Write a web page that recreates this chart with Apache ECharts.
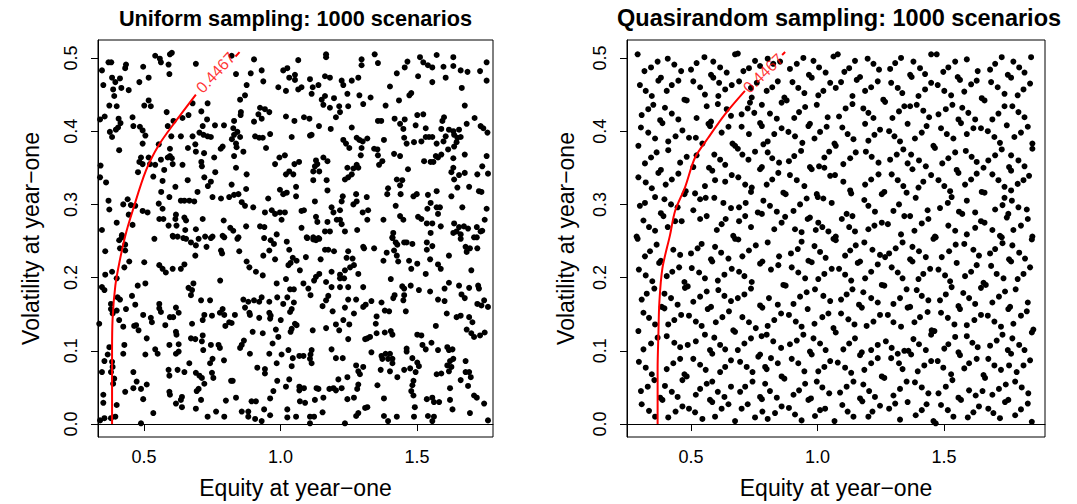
<!DOCTYPE html>
<html>
<head>
<meta charset="utf-8">
<script src="https://cdn.jsdelivr.net/npm/echarts@6/dist/echarts.min.js"></script>
<style>
  html, body { margin: 0; padding: 0; background: #ffffff; }
  #chart { width: 1077px; height: 504px; }
</style>
</head>
<body>
<div id="chart"></div>
<script>
// Panel titles and axis titles
const leftTitle = 'Uniform sampling: 1000 scenarios';
const rightTitle = 'Quasirandom sampling: 1000 scenarios';
const xTitle = 'Equity at year\u2212one';
const yTitle = 'Volatility at year\u2212one';

// Tick values
const xTicks = [0.5, 1.0, 1.5];
const yTicks = [0.0, 0.1, 0.2, 0.3, 0.4, 0.5];

// Contour level drawn as the red curve
const contourLevel = 0.4467;

// Uniformly sampled scenarios: [equity, volatility]
const uniformPoints = [
[0.541,0.503],[0.558,0.499],[0.595,0.505],[0.602,0.507],[0.562,0.494],[0.590,0.491],[0.690,0.492],[0.370,0.494],[0.380,0.494],[0.434,0.491],[0.431,0.486],[0.346,0.483],[0.497,0.488],[0.593,0.478],[0.383,0.473],[0.412,0.472],[0.395,0.467],[0.351,0.463],[0.417,0.459],[0.444,0.456],[0.483,0.467],[0.517,0.473],[0.387,0.457],[0.391,0.448],[0.373,0.435],[0.400,0.434],[0.517,0.442],[0.501,0.435],[0.525,0.434],[0.583,0.426],[0.678,0.438],[0.733,0.438],[0.339,0.416],[0.356,0.420],[0.407,0.417],[0.414,0.411],[0.405,0.405],[0.397,0.402],[0.375,0.399],[0.458,0.419],[0.461,0.407],[0.485,0.406],[0.495,0.401],[0.505,0.394],[0.587,0.407],[0.608,0.414],[0.641,0.418],[0.663,0.422],[0.710,0.427],[0.731,0.416],[0.760,0.408],[0.793,0.408],[0.715,0.407],[0.703,0.398],[0.718,0.395],[0.733,0.393],[0.745,0.392],[0.678,0.393],[0.635,0.393],[0.600,0.393],[0.383,0.392],[0.409,0.374],[0.495,0.383],[0.554,0.382],[0.595,0.376],[0.661,0.377],[0.688,0.382],[0.690,0.372],[0.720,0.370],[0.757,0.364],[0.781,0.376],[0.788,0.379],[0.822,0.389],[0.341,0.353],[0.489,0.364],[0.483,0.358],[0.517,0.364],[0.495,0.355],[0.522,0.355],[0.541,0.354],[0.562,0.361],[0.587,0.364],[0.595,0.366],[0.605,0.355],[0.602,0.363],[0.641,0.354],[0.710,0.358],[0.712,0.352],[0.478,0.344],[0.534,0.338],[0.574,0.347],[0.339,0.337],[0.361,0.330],[0.568,0.332],[0.615,0.324],[0.660,0.333],[0.721,0.337],[0.734,0.325],[0.745,0.331],[0.761,0.344],[0.696,0.317],[0.563,0.317],[0.593,0.310],[0.751,0.310],[0.782,0.308],[0.812,0.310],[0.370,0.305],[0.440,0.307],[0.424,0.300],[0.452,0.299],[0.554,0.301],[0.635,0.305],[0.648,0.305],[0.666,0.305],[0.684,0.304],[0.373,0.293],[0.444,0.286],[0.468,0.298],[0.495,0.291],[0.513,0.289],[0.568,0.294],[0.617,0.286],[0.556,0.280],[0.571,0.280],[0.615,0.280],[0.648,0.282],[0.654,0.278],[0.715,0.280],[0.792,0.278],[0.400,0.275],[0.458,0.272],[0.590,0.271],[0.619,0.271],[0.651,0.265],[0.690,0.266],[0.346,0.265],[0.419,0.258],[0.605,0.257],[0.623,0.256],[0.724,0.256],[0.751,0.256],[0.788,0.257],[0.816,0.268],
[0.821,0.503],[0.903,0.498],[1.065,0.497],[1.167,0.505],[1.167,0.501],[1.297,0.498],[1.297,0.490],[0.837,0.478],[0.891,0.479],[0.931,0.483],[1.010,0.483],[1.025,0.486],[0.937,0.468],[1.032,0.473],[1.053,0.477],[1.053,0.470],[1.108,0.471],[1.163,0.475],[1.181,0.473],[1.224,0.469],[1.230,0.463],[1.261,0.469],[1.285,0.473],[0.876,0.463],[0.992,0.460],[1.020,0.455],[1.065,0.457],[1.077,0.460],[1.118,0.460],[1.139,0.463],[1.114,0.451],[1.151,0.443],[1.163,0.448],[1.196,0.445],[1.245,0.451],[1.289,0.449],[0.870,0.449],[0.852,0.443],[1.157,0.436],[1.181,0.432],[1.215,0.434],[1.248,0.434],[1.303,0.437],[0.925,0.432],[0.943,0.430],[0.959,0.426],[0.919,0.423],[0.931,0.417],[0.903,0.413],[0.855,0.426],[0.854,0.422],[0.830,0.414],[0.827,0.404],[0.842,0.399],[0.852,0.392],[0.837,0.383],[0.830,0.395],[1.020,0.420],[1.051,0.414],[1.086,0.419],[1.106,0.417],[1.141,0.407],[1.184,0.403],[1.203,0.419],[1.218,0.426],[1.261,0.405],[0.907,0.393],[0.922,0.391],[0.935,0.391],[0.962,0.396],[1.041,0.392],[1.108,0.394],[1.114,0.395],[1.230,0.388],[1.240,0.383],[1.252,0.377],[1.279,0.391],[1.289,0.388],[1.301,0.386],[1.297,0.377],[0.839,0.378],[0.864,0.372],[0.947,0.377],[0.830,0.366],[1.294,0.367],[1.016,0.367],[0.996,0.364],[0.980,0.355],[1.051,0.355],[1.068,0.358],[1.130,0.360],[1.135,0.355],[1.157,0.364],[1.172,0.359],[1.126,0.352],[1.120,0.345],[1.142,0.345],[1.279,0.354],[1.267,0.349],[1.285,0.350],[1.245,0.350],[0.837,0.350],[0.876,0.341],[1.032,0.345],[1.020,0.341],[1.047,0.341],[1.120,0.333],[1.169,0.333],[1.236,0.334],[1.248,0.337],[1.261,0.341],[0.821,0.327],[0.874,0.321],[0.998,0.320],[1.010,0.314],[1.023,0.316],[1.057,0.324],[1.057,0.311],[1.172,0.319],[1.228,0.311],[1.277,0.314],[0.830,0.313],[0.846,0.314],[0.858,0.303],[0.870,0.298],[0.900,0.296],[0.955,0.308],[1.126,0.304],[1.224,0.304],[1.267,0.300],[1.279,0.304],[0.943,0.289],[0.968,0.292],[0.980,0.287],[0.998,0.289],[1.016,0.289],[1.077,0.291],[1.086,0.292],[1.130,0.283],[1.187,0.296],[1.194,0.289],[1.218,0.292],[1.218,0.279],[1.206,0.279],[1.301,0.289],[1.004,0.279],[1.135,0.276],[1.172,0.276],[1.224,0.273],[0.874,0.270],[0.925,0.270],[0.941,0.269],[1.077,0.268],[0.827,0.264],[0.846,0.255],[0.986,0.259],[1.096,0.255],[1.120,0.255],[1.139,0.254],[1.163,0.263],[1.181,0.263],[1.236,0.263],[1.281,0.265],
[1.345,0.505],[1.357,0.493],[1.511,0.501],[1.523,0.494],[1.540,0.490],[1.556,0.487],[1.572,0.504],[1.597,0.488],[1.633,0.501],[1.633,0.489],[1.660,0.483],[1.685,0.481],[1.731,0.482],[1.755,0.494],[1.465,0.495],[1.455,0.487],[1.426,0.479],[1.504,0.475],[1.556,0.467],[1.605,0.473],[1.664,0.459],[1.755,0.469],[1.401,0.461],[1.479,0.452],[1.472,0.449],[1.330,0.446],[1.434,0.442],[1.385,0.435],[1.675,0.435],[1.357,0.414],[1.369,0.414],[1.418,0.417],[1.438,0.410],[1.455,0.416],[1.501,0.422],[1.523,0.423],[1.495,0.408],[1.532,0.404],[1.450,0.403],[1.599,0.419],[1.593,0.414],[1.589,0.403],[1.617,0.402],[1.633,0.400],[1.654,0.402],[1.636,0.395],[1.711,0.418],[1.682,0.410],[1.733,0.407],[1.743,0.404],[1.758,0.398],[1.453,0.391],[1.462,0.383],[1.489,0.385],[1.516,0.386],[1.532,0.392],[1.544,0.392],[1.556,0.392],[1.572,0.383],[1.597,0.386],[1.605,0.393],[1.648,0.391],[1.660,0.392],[1.645,0.385],[1.636,0.379],[1.614,0.375],[1.589,0.368],[1.569,0.366],[1.577,0.364],[1.560,0.358],[1.526,0.359],[1.550,0.358],[1.416,0.369],[1.438,0.366],[1.379,0.388],[1.318,0.390],[1.343,0.376],[1.355,0.375],[1.357,0.367],[1.373,0.359],[1.361,0.354],[1.633,0.363],[1.675,0.368],[1.755,0.366],[1.739,0.352],[1.467,0.348],[1.633,0.350],[1.626,0.344],[1.654,0.340],[1.636,0.334],[1.675,0.343],[1.721,0.341],[1.760,0.342],[1.426,0.334],[1.446,0.333],[1.438,0.326],[1.394,0.322],[1.391,0.314],[1.440,0.314],[1.487,0.311],[1.499,0.314],[1.540,0.313],[1.572,0.318],[1.626,0.311],[1.648,0.323],[1.691,0.324],[1.727,0.318],[1.736,0.317],[1.316,0.310],[1.422,0.298],[1.538,0.294],[1.550,0.302],[1.572,0.296],[1.584,0.296],[1.577,0.287],[1.666,0.296],[1.755,0.294],[1.321,0.292],[1.318,0.279],[1.377,0.279],[1.438,0.284],[1.450,0.279],[1.504,0.283],[1.516,0.280],[1.536,0.274],[1.556,0.274],[1.587,0.270],[1.636,0.274],[1.654,0.269],[1.672,0.270],[1.687,0.267],[1.719,0.269],[1.739,0.264],[1.748,0.279],[1.413,0.261],[1.410,0.255],[1.550,0.261],[1.633,0.261],[1.645,0.263],[1.660,0.259],[1.709,0.255],[1.733,0.263],
[0.409,0.251],[0.419,0.255],[0.431,0.245],[0.412,0.240],[0.431,0.237],[0.358,0.236],[0.324,0.223],[0.446,0.222],[0.501,0.221],[0.428,0.214],[0.383,0.208],[0.358,0.204],[0.400,0.199],[0.330,0.185],[0.346,0.187],[0.355,0.183],[0.477,0.189],[0.505,0.192],[0.403,0.173],[0.412,0.170],[0.456,0.175],[0.468,0.163],[0.328,0.168],[0.379,0.164],[0.379,0.157],[0.385,0.151],[0.400,0.155],[0.434,0.157],[0.538,0.253],[0.607,0.256],[0.644,0.254],[0.654,0.253],[0.672,0.248],[0.690,0.244],[0.700,0.253],[0.729,0.242],[0.745,0.254],[0.794,0.255],[0.688,0.230],[0.782,0.237],[0.786,0.233],[0.556,0.217],[0.568,0.212],[0.580,0.207],[0.605,0.212],[0.635,0.212],[0.648,0.218],[0.663,0.186],[0.676,0.183],[0.672,0.176],[0.681,0.192],[0.709,0.169],[0.742,0.169],[0.779,0.196],[0.556,0.164],[0.556,0.158],[0.562,0.153],[0.617,0.159],[0.627,0.152],[0.595,0.146],[0.607,0.146],[0.497,0.149],[0.525,0.145],[0.529,0.139],[0.471,0.135],[0.480,0.128],[0.464,0.134],[0.336,0.137],[0.409,0.142],[0.424,0.133],[0.578,0.135],[0.676,0.137],[0.715,0.142],[0.721,0.149],[0.749,0.148],[0.778,0.152],[0.788,0.157],[0.794,0.149],[0.812,0.139],[0.798,0.134],[0.617,0.126],[0.619,0.122],[0.510,0.117],[0.593,0.108],[0.627,0.109],[0.617,0.096],[0.627,0.099],[0.428,0.108],[0.424,0.096],[0.505,0.095],[0.541,0.102],[0.550,0.096],[0.672,0.117],[0.688,0.116],[0.715,0.121],[0.712,0.113],[0.717,0.101],[0.745,0.108],[0.773,0.108],[0.778,0.104],[0.751,0.089],[0.742,0.083],[0.793,0.087],[0.373,0.105],[0.367,0.095],[0.355,0.086],[0.383,0.085],[0.385,0.078],[0.379,0.071],[0.346,0.071],[0.330,0.071],[0.666,0.083],[0.461,0.071],[0.473,0.058],[0.461,0.049],[0.489,0.048],[0.510,0.054],[0.590,0.074],[0.593,0.066],[0.623,0.074],[0.648,0.071],[0.690,0.070],[0.703,0.066],[0.712,0.063],[0.749,0.070],[0.754,0.063],[0.819,0.059],[0.721,0.055],[0.700,0.048],[0.693,0.045],[0.391,0.062],[0.387,0.055],[0.431,0.044],[0.593,0.044],[0.595,0.040],[0.639,0.037],[0.635,0.033],[0.497,0.034],[0.534,0.015],[0.617,0.028],[0.639,0.023],[0.709,0.033],[0.690,0.021],[0.800,0.032],[0.351,0.040],[0.351,0.029],[0.400,0.026],[0.764,0.017],[0.733,0.010],[0.794,0.010],[0.379,0.008],[0.395,0.010],[0.355,0.008],[0.339,0.005],[0.489,0.001],
[0.842,0.253],[0.940,0.254],[0.964,0.251],[0.976,0.246],[1.023,0.249],[1.098,0.254],[1.120,0.252],[1.130,0.251],[1.142,0.253],[0.849,0.236],[0.937,0.230],[0.959,0.237],[0.980,0.225],[1.032,0.238],[1.045,0.227],[1.059,0.223],[1.037,0.220],[1.029,0.217],[1.093,0.228],[1.147,0.225],[1.163,0.238],[1.175,0.238],[1.196,0.236],[1.248,0.236],[1.242,0.227],[1.264,0.226],[1.303,0.242],[0.876,0.222],[0.886,0.214],[0.910,0.208],[0.935,0.203],[1.071,0.210],[1.020,0.198],[0.986,0.192],[1.084,0.192],[1.102,0.185],[1.110,0.176],[1.123,0.196],[1.130,0.201],[1.142,0.205],[1.167,0.194],[1.187,0.208],[1.187,0.187],[1.218,0.204],[1.218,0.199],[1.233,0.199],[1.236,0.210],[1.255,0.214],[1.269,0.217],[1.285,0.205],[1.218,0.187],[1.248,0.187],[1.303,0.187],[1.035,0.184],[1.049,0.184],[0.864,0.170],[0.882,0.167],[0.903,0.169],[0.922,0.167],[0.931,0.173],[0.959,0.167],[0.988,0.173],[1.010,0.164],[1.025,0.173],[1.049,0.166],[0.870,0.159],[0.886,0.152],[0.888,0.149],[0.922,0.145],[0.959,0.152],[0.964,0.148],[0.962,0.144],[1.001,0.142],[1.035,0.153],[1.041,0.157],[1.154,0.161],[1.167,0.169],[1.175,0.175],[1.191,0.154],[1.236,0.159],[1.248,0.170],[1.277,0.170],[1.269,0.151],[1.303,0.160],[0.833,0.149],[0.821,0.138],[0.898,0.126],[0.935,0.124],[0.983,0.129],[0.992,0.119],[1.037,0.126],[1.041,0.130],[1.053,0.137],[1.059,0.135],[1.118,0.128],[1.167,0.131],[1.203,0.136],[1.215,0.128],[1.230,0.142],[1.252,0.136],[0.866,0.114],[0.858,0.108],[0.852,0.104],[0.971,0.110],[0.888,0.096],[0.959,0.096],[1.004,0.095],[1.029,0.101],[1.045,0.090],[1.069,0.093],[1.084,0.093],[1.114,0.101],[1.110,0.095],[1.108,0.089],[1.114,0.083],[1.187,0.102],[1.203,0.090],[1.228,0.090],[1.248,0.116],[1.310,0.116],[0.915,0.077],[0.943,0.075],[0.943,0.069],[0.986,0.083],[1.041,0.079],[1.277,0.080],[1.285,0.072],[1.291,0.068],[1.303,0.078],[0.825,0.059],[0.988,0.059],[1.032,0.061],[1.069,0.051],[1.069,0.046],[1.086,0.049],[1.132,0.049],[1.139,0.048],[1.179,0.048],[1.194,0.049],[1.203,0.046],[1.224,0.049],[1.212,0.061],[1.245,0.064],[1.285,0.054],[1.281,0.048],[1.020,0.051],[0.974,0.045],[0.962,0.035],[0.837,0.036],[0.894,0.031],[0.910,0.031],[1.071,0.031],[1.090,0.029],[1.126,0.033],[1.157,0.036],[1.245,0.034],[1.269,0.036],[1.310,0.022],[0.858,0.017],[0.882,0.017],[0.882,0.010],[0.907,0.007],[0.931,0.004],[0.940,0.020],[0.962,0.012],[1.025,0.020],[1.025,0.009],[1.057,0.010],[1.108,0.010],[1.123,0.010],[1.154,0.016],[1.108,0.001],[1.236,0.001],[1.277,0.011],[1.285,0.015],
[1.410,0.254],[1.422,0.248],[1.428,0.245],[1.453,0.248],[1.462,0.248],[1.483,0.246],[1.536,0.248],[1.556,0.243],[1.536,0.238],[1.343,0.240],[1.306,0.240],[1.389,0.234],[1.416,0.237],[1.426,0.230],[1.431,0.222],[1.377,0.223],[1.471,0.223],[1.501,0.219],[1.479,0.212],[1.548,0.225],[1.577,0.218],[1.587,0.212],[1.532,0.205],[1.617,0.230],[1.660,0.253],[1.719,0.255],[1.678,0.242],[1.694,0.240],[1.721,0.240],[1.682,0.235],[1.699,0.210],[1.404,0.198],[1.446,0.188],[1.453,0.185],[1.477,0.189],[1.507,0.183],[1.548,0.181],[1.601,0.185],[1.617,0.193],[1.654,0.189],[1.691,0.186],[1.724,0.189],[1.727,0.185],[1.418,0.176],[1.413,0.172],[1.453,0.176],[1.450,0.169],[1.577,0.170],[1.601,0.168],[1.663,0.177],[1.675,0.172],[1.721,0.164],[1.736,0.162],[1.760,0.160],[1.746,0.169],[1.312,0.163],[1.333,0.168],[1.370,0.166],[1.382,0.155],[1.398,0.154],[1.459,0.154],[1.609,0.151],[1.645,0.146],[1.660,0.148],[1.691,0.146],[1.703,0.139],[1.682,0.129],[1.699,0.124],[1.709,0.119],[1.731,0.121],[1.748,0.125],[1.352,0.147],[1.349,0.137],[1.569,0.134],[1.318,0.117],[1.328,0.119],[1.352,0.124],[1.382,0.125],[1.404,0.127],[1.410,0.122],[1.501,0.122],[1.516,0.121],[1.520,0.108],[1.532,0.102],[1.553,0.111],[1.577,0.101],[1.611,0.105],[1.617,0.101],[1.630,0.102],[1.333,0.098],[1.370,0.093],[1.385,0.096],[1.401,0.096],[1.373,0.089],[1.394,0.089],[1.410,0.089],[1.410,0.083],[1.462,0.103],[1.462,0.099],[1.483,0.090],[1.501,0.084],[1.507,0.079],[1.367,0.074],[1.401,0.072],[1.428,0.064],[1.453,0.074],[1.475,0.076],[1.495,0.071],[1.621,0.086],[1.633,0.089],[1.611,0.080],[1.626,0.078],[1.572,0.068],[1.589,0.069],[1.617,0.072],[1.678,0.086],[1.678,0.071],[1.691,0.071],[1.697,0.064],[1.660,0.060],[1.487,0.059],[1.483,0.053],[1.479,0.045],[1.487,0.039],[1.355,0.053],[1.621,0.049],[1.687,0.052],[1.709,0.039],[1.719,0.036],[1.379,0.035],[1.536,0.034],[1.556,0.036],[1.562,0.030],[1.581,0.030],[1.621,0.033],[1.746,0.028],[1.318,0.023],[1.492,0.023],[1.630,0.020],[1.694,0.015],[1.379,0.011],[1.394,0.004],[1.426,0.010],[1.489,0.010],[1.540,0.011],[1.562,0.010],[1.556,0.004],[1.760,0.005]
];

// Quasirandom (low-discrepancy) scenarios: [equity, volatility]
const quasiPoints = [
[0.289,0.505],[0.316,0.482],[0.342,0.487],[0.368,0.495],[0.408,0.499],[0.434,0.491],[0.461,0.482],[0.500,0.484],[0.522,0.493],[0.553,0.501],[0.588,0.495],[0.615,0.487],[0.641,0.480],[0.674,0.505],[0.685,0.506],[0.707,0.482],[0.729,0.486],[0.753,0.496],[0.773,0.489],[0.371,0.469],[0.381,0.473],[0.298,0.463],[0.321,0.455],[0.345,0.448],[0.404,0.455],[0.424,0.463],[0.450,0.469],[0.509,0.468],[0.536,0.460],[0.579,0.477],[0.588,0.473],[0.611,0.466],[0.635,0.457],[0.661,0.463],[0.690,0.468],[0.737,0.459],[0.760,0.466],[0.474,0.443],[0.483,0.442],[0.555,0.450],[0.608,0.448],[0.740,0.446],[0.331,0.430],[0.351,0.436],[0.305,0.422],[0.397,0.432],[0.424,0.424],[0.450,0.416],[0.378,0.415],[0.387,0.411],[0.522,0.418],[0.562,0.434],[0.606,0.437],[0.641,0.430],[0.658,0.421],[0.700,0.423],[0.724,0.431],[0.733,0.439],[0.750,0.425],[0.780,0.436],[0.302,0.405],[0.331,0.398],[0.358,0.390],[0.410,0.386],[0.439,0.393],[0.466,0.401],[0.492,0.391],[0.519,0.391],[0.569,0.410],[0.579,0.413],[0.575,0.407],[0.621,0.398],[0.648,0.406],[0.700,0.406],[0.729,0.396],[0.773,0.411],[0.780,0.407],[0.292,0.380],[0.318,0.356],[0.342,0.364],[0.364,0.371],[0.410,0.374],[0.457,0.357],[0.483,0.365],[0.522,0.367],[0.545,0.383],[0.592,0.368],[0.615,0.361],[0.635,0.354],[0.664,0.383],[0.674,0.380],[0.685,0.376],[0.703,0.368],[0.727,0.361],[0.753,0.372],[0.786,0.382],[0.381,0.347],[0.371,0.343],[0.292,0.337],[0.321,0.330],[0.345,0.322],[0.400,0.327],[0.424,0.334],[0.450,0.342],[0.509,0.351],[0.571,0.350],[0.584,0.346],[0.555,0.325],[0.595,0.333],[0.635,0.331],[0.661,0.340],[0.687,0.337],[0.714,0.327],[0.740,0.323],[0.773,0.348],[0.780,0.351],[0.479,0.318],[0.474,0.314],[0.318,0.302],[0.298,0.298],[0.358,0.310],[0.395,0.307],[0.421,0.300],[0.447,0.296],[0.516,0.315],[0.536,0.307],[0.558,0.309],[0.592,0.309],[0.628,0.302],[0.658,0.295],[0.690,0.296],[0.716,0.302],[0.737,0.317],[0.786,0.305],[0.381,0.288],[0.391,0.284],[0.312,0.278],[0.334,0.269],[0.358,0.264],[0.408,0.269],[0.437,0.277],[0.463,0.277],[0.509,0.292],[0.536,0.280],[0.562,0.284],[0.602,0.265],[0.621,0.273],[0.637,0.280],[0.667,0.257],[0.690,0.277],[0.714,0.284],[0.737,0.269],[0.764,0.289],[0.780,0.287],[0.285,0.256],
[0.803,0.499],[0.825,0.492],[0.852,0.495],[0.891,0.485],[0.918,0.492],[0.944,0.500],[0.984,0.496],[1.006,0.487],[1.032,0.480],[1.063,0.502],[1.080,0.505],[1.106,0.481],[1.125,0.486],[1.148,0.496],[1.198,0.499],[1.221,0.492],[1.243,0.484],[1.287,0.485],[1.307,0.493],[1.330,0.500],[0.843,0.468],[0.821,0.460],[0.799,0.455],[0.901,0.467],[0.924,0.459],[0.948,0.452],[0.966,0.477],[0.977,0.473],[1.003,0.449],[1.023,0.455],[1.050,0.466],[1.072,0.459],[1.093,0.467],[1.138,0.448],[1.155,0.470],[1.168,0.474],[1.188,0.455],[1.212,0.460],[1.238,0.468],[1.291,0.466],[1.317,0.459],[1.335,0.452],[0.869,0.446],[0.878,0.442],[0.858,0.439],[0.927,0.426],[0.908,0.418],[0.951,0.433],[0.997,0.436],[1.040,0.419],[1.085,0.420],[1.111,0.431],[1.138,0.437],[1.181,0.431],[1.201,0.425],[1.221,0.418],[1.260,0.443],[1.267,0.440],[1.296,0.418],[1.322,0.427],[1.343,0.434],[0.812,0.424],[0.839,0.417],[0.858,0.404],[0.885,0.399],[0.911,0.393],[0.964,0.407],[0.970,0.410],[1.010,0.399],[1.036,0.406],[1.067,0.383],[1.072,0.380],[1.098,0.405],[1.119,0.396],[1.142,0.389],[1.188,0.410],[1.201,0.387],[1.225,0.395],[1.247,0.402],[1.283,0.400],[1.304,0.393],[1.326,0.386],[0.803,0.386],[0.829,0.396],[0.803,0.371],[0.821,0.363],[0.848,0.357],[0.887,0.359],[0.908,0.366],[0.935,0.373],[0.940,0.384],[0.988,0.390],[1.027,0.364],[1.046,0.372],[1.006,0.352],[1.027,0.350],[1.102,0.355],[1.129,0.363],[1.151,0.371],[1.191,0.372],[1.214,0.365],[1.241,0.357],[1.287,0.361],[1.313,0.368],[1.339,0.375],[0.845,0.343],[0.821,0.334],[0.799,0.327],[0.891,0.340],[0.918,0.333],[0.948,0.325],[0.970,0.351],[0.977,0.348],[0.997,0.314],[1.050,0.339],[1.023,0.308],[1.069,0.340],[1.102,0.331],[1.129,0.319],[1.133,0.315],[1.188,0.327],[1.212,0.334],[1.241,0.341],[1.293,0.341],[1.317,0.333],[1.339,0.325],[0.865,0.316],[0.874,0.314],[0.812,0.298],[0.839,0.290],[0.872,0.283],[0.905,0.291],[0.931,0.300],[0.957,0.308],[0.961,0.280],[0.970,0.282],[1.001,0.310],[1.003,0.275],[1.019,0.269],[1.043,0.263],[1.056,0.302],[1.096,0.280],[1.115,0.287],[1.138,0.284],[1.185,0.306],[1.201,0.298],[1.227,0.290],[1.254,0.314],[1.264,0.317],[1.300,0.291],[1.322,0.300],[1.343,0.284],[0.858,0.275],[0.829,0.266],[0.911,0.266],[0.937,0.262],[0.993,0.265],[1.072,0.256],[1.125,0.269],[1.148,0.263],[1.201,0.266],[1.225,0.271],[1.254,0.275],[1.278,0.273],[1.330,0.259],
[1.449,0.505],[1.471,0.505],[1.379,0.495],[1.405,0.486],[1.425,0.478],[1.366,0.477],[1.372,0.474],[1.497,0.481],[1.517,0.487],[1.544,0.495],[1.590,0.498],[1.554,0.474],[1.563,0.470],[1.633,0.482],[1.629,0.469],[1.607,0.464],[1.580,0.454],[1.682,0.484],[1.702,0.492],[1.728,0.501],[1.774,0.495],[1.797,0.487],[1.818,0.480],[1.844,0.501],[1.752,0.477],[1.765,0.473],[1.686,0.467],[1.712,0.460],[1.739,0.451],[1.791,0.449],[1.814,0.457],[1.840,0.465],[1.449,0.466],[1.475,0.463],[1.501,0.455],[1.528,0.449],[1.425,0.457],[1.399,0.448],[1.649,0.445],[1.660,0.442],[1.366,0.434],[1.392,0.436],[1.418,0.428],[1.441,0.419],[1.478,0.423],[1.507,0.430],[1.533,0.436],[1.572,0.432],[1.596,0.425],[1.623,0.416],[1.557,0.416],[1.567,0.411],[1.691,0.416],[1.715,0.424],[1.739,0.434],[1.770,0.434],[1.794,0.426],[1.818,0.419],[1.356,0.410],[1.385,0.390],[1.412,0.398],[1.431,0.407],[1.488,0.404],[1.511,0.396],[1.537,0.390],[1.590,0.396],[1.616,0.404],[1.646,0.404],[1.673,0.400],[1.699,0.392],[1.721,0.384],[1.748,0.408],[1.778,0.392],[1.804,0.398],[1.831,0.406],[1.849,0.383],[1.849,0.376],[1.458,0.380],[1.464,0.377],[1.370,0.368],[1.356,0.356],[1.375,0.348],[1.401,0.360],[1.428,0.352],[1.493,0.356],[1.517,0.363],[1.544,0.371],[1.586,0.373],[1.609,0.365],[1.629,0.358],[1.656,0.350],[1.675,0.360],[1.702,0.367],[1.728,0.375],[1.765,0.367],[1.794,0.360],[1.818,0.352],[1.757,0.351],[1.765,0.346],[1.550,0.347],[1.557,0.343],[1.399,0.323],[1.418,0.331],[1.449,0.340],[1.478,0.333],[1.501,0.325],[1.524,0.318],[1.583,0.327],[1.607,0.334],[1.629,0.342],[1.691,0.341],[1.715,0.333],[1.739,0.324],[1.765,0.319],[1.791,0.328],[1.814,0.333],[1.836,0.339],[1.649,0.317],[1.660,0.316],[1.352,0.316],[1.388,0.309],[1.366,0.284],[1.383,0.264],[1.412,0.274],[1.435,0.292],[1.438,0.280],[1.484,0.295],[1.515,0.302],[1.530,0.310],[1.559,0.290],[1.572,0.287],[1.590,0.305],[1.623,0.289],[1.646,0.277],[1.702,0.293],[1.731,0.299],[1.739,0.309],[1.768,0.305],[1.794,0.296],[1.827,0.293],[1.754,0.287],[1.748,0.282],[1.517,0.271],[1.544,0.264],[1.590,0.259],[1.623,0.268],[1.660,0.275],[1.691,0.265],[1.721,0.257],[1.774,0.265],[1.804,0.271],[1.831,0.280],[1.464,0.256],[1.849,0.256],
[0.289,0.253],[0.318,0.229],[0.338,0.236],[0.364,0.245],[0.374,0.220],[0.381,0.223],[0.430,0.238],[0.457,0.231],[0.500,0.233],[0.526,0.240],[0.542,0.246],[0.579,0.225],[0.584,0.222],[0.619,0.234],[0.595,0.242],[0.648,0.226],[0.674,0.253],[0.687,0.252],[0.703,0.229],[0.729,0.237],[0.756,0.244],[0.773,0.219],[0.782,0.222],[0.294,0.211],[0.321,0.203],[0.347,0.195],[0.404,0.202],[0.426,0.208],[0.453,0.214],[0.503,0.213],[0.532,0.207],[0.555,0.199],[0.606,0.196],[0.632,0.204],[0.661,0.212],[0.690,0.208],[0.711,0.202],[0.740,0.194],[0.474,0.194],[0.476,0.186],[0.487,0.188],[0.305,0.170],[0.325,0.178],[0.355,0.185],[0.395,0.178],[0.421,0.172],[0.447,0.163],[0.509,0.167],[0.536,0.174],[0.562,0.181],[0.608,0.183],[0.632,0.175],[0.658,0.168],[0.685,0.172],[0.711,0.177],[0.737,0.185],[0.773,0.162],[0.782,0.159],[0.384,0.160],[0.395,0.158],[0.566,0.157],[0.579,0.160],[0.312,0.152],[0.334,0.145],[0.358,0.136],[0.410,0.136],[0.434,0.142],[0.461,0.149],[0.492,0.148],[0.519,0.140],[0.542,0.134],[0.598,0.139],[0.624,0.146],[0.650,0.154],[0.703,0.146],[0.729,0.139],[0.756,0.131],[0.667,0.128],[0.674,0.126],[0.292,0.127],[0.342,0.110],[0.368,0.118],[0.404,0.120],[0.434,0.111],[0.457,0.105],[0.487,0.108],[0.519,0.113],[0.555,0.122],[0.592,0.118],[0.615,0.108],[0.635,0.102],[0.685,0.101],[0.711,0.110],[0.737,0.117],[0.779,0.120],[0.575,0.101],[0.584,0.096],[0.773,0.095],[0.766,0.092],[0.312,0.102],[0.294,0.085],[0.321,0.077],[0.345,0.068],[0.404,0.075],[0.430,0.083],[0.457,0.089],[0.509,0.089],[0.536,0.081],[0.558,0.074],[0.615,0.071],[0.635,0.078],[0.658,0.087],[0.694,0.085],[0.720,0.078],[0.743,0.071],[0.793,0.078],[0.474,0.068],[0.483,0.065],[0.466,0.060],[0.302,0.045],[0.329,0.051],[0.355,0.060],[0.397,0.052],[0.424,0.044],[0.447,0.037],[0.519,0.040],[0.536,0.048],[0.562,0.055],[0.584,0.058],[0.606,0.044],[0.632,0.037],[0.658,0.051],[0.694,0.044],[0.714,0.051],[0.743,0.058],[0.773,0.037],[0.780,0.034],[0.793,0.055],[0.378,0.036],[0.387,0.033],[0.305,0.027],[0.334,0.018],[0.358,0.010],[0.410,0.009],[0.439,0.017],[0.466,0.024],[0.492,0.021],[0.516,0.016],[0.545,0.007],[0.575,0.033],[0.584,0.030],[0.595,0.010],[0.621,0.021],[0.648,0.027],[0.674,0.004],[0.700,0.021],[0.724,0.027],[0.753,0.009],[0.782,0.017],
[0.803,0.248],[0.937,0.249],[0.988,0.243],[1.010,0.235],[1.032,0.227],[1.063,0.253],[1.072,0.251],[1.109,0.230],[1.129,0.237],[1.151,0.244],[1.185,0.248],[1.217,0.238],[1.247,0.231],[1.283,0.233],[1.309,0.240],[1.336,0.248],[0.848,0.229],[0.895,0.233],[0.922,0.239],[0.964,0.223],[0.977,0.221],[0.816,0.211],[0.845,0.217],[0.898,0.214],[0.924,0.207],[0.951,0.199],[1.003,0.198],[1.027,0.205],[1.056,0.212],[1.085,0.212],[1.109,0.204],[1.133,0.196],[1.159,0.220],[1.168,0.222],[1.188,0.199],[1.212,0.208],[1.238,0.218],[1.267,0.228],[1.293,0.214],[1.317,0.207],[1.336,0.199],[0.865,0.190],[0.874,0.189],[1.254,0.190],[1.264,0.189],[0.931,0.174],[0.957,0.180],[0.905,0.164],[0.990,0.184],[1.023,0.175],[1.050,0.168],[1.093,0.170],[1.115,0.177],[1.138,0.184],[1.181,0.180],[1.212,0.172],[1.238,0.166],[1.300,0.164],[1.326,0.172],[0.808,0.172],[0.843,0.163],[1.164,0.163],[1.175,0.159],[0.856,0.151],[0.829,0.142],[0.803,0.134],[0.887,0.149],[0.914,0.140],[0.937,0.133],[0.961,0.157],[0.988,0.137],[1.019,0.146],[1.043,0.151],[1.063,0.131],[1.072,0.125],[1.093,0.151],[1.122,0.143],[1.146,0.136],[1.194,0.134],[1.221,0.140],[1.247,0.149],[1.278,0.149],[1.300,0.139],[1.330,0.133],[0.799,0.122],[0.825,0.113],[0.856,0.104],[0.891,0.109],[0.918,0.114],[0.944,0.122],[0.970,0.099],[0.977,0.095],[0.984,0.117],[1.010,0.110],[1.032,0.101],[1.102,0.102],[1.125,0.110],[1.148,0.117],[1.168,0.094],[1.175,0.098],[1.212,0.101],[1.238,0.108],[1.270,0.113],[1.293,0.104],[1.317,0.096],[1.343,0.100],[0.816,0.090],[0.843,0.083],[0.799,0.075],[0.898,0.089],[0.924,0.083],[0.948,0.072],[1.003,0.072],[1.027,0.078],[1.050,0.086],[1.080,0.084],[1.109,0.077],[1.133,0.070],[1.185,0.074],[1.212,0.083],[1.238,0.090],[1.291,0.090],[1.322,0.083],[1.336,0.075],[0.858,0.065],[0.869,0.062],[1.254,0.065],[1.264,0.063],[0.812,0.045],[0.839,0.036],[0.927,0.046],[0.951,0.055],[0.905,0.040],[0.997,0.058],[1.019,0.050],[1.046,0.042],[1.089,0.043],[1.115,0.051],[1.142,0.058],[1.181,0.054],[1.204,0.045],[1.227,0.037],[1.300,0.039],[1.326,0.048],[0.803,0.007],[0.832,0.015],[0.858,0.024],[0.887,0.022],[0.911,0.013],[0.937,0.005],[0.964,0.033],[0.974,0.035],[0.990,0.011],[1.010,0.019],[1.030,0.021],[1.067,0.004],[1.098,0.026],[1.119,0.017],[1.142,0.010],[1.168,0.035],[1.177,0.031],[1.201,0.010],[1.217,0.017],[1.247,0.025],[1.283,0.021],[1.307,0.028],[1.326,0.006],
[1.458,0.253],[1.467,0.255],[1.728,0.255],[1.847,0.252],[1.375,0.242],[1.401,0.236],[1.428,0.228],[1.366,0.225],[1.375,0.222],[1.491,0.228],[1.520,0.236],[1.546,0.245],[1.580,0.246],[1.616,0.238],[1.638,0.230],[1.550,0.220],[1.682,0.233],[1.702,0.239],[1.731,0.247],[1.770,0.244],[1.797,0.234],[1.820,0.226],[1.840,0.214],[1.757,0.225],[1.765,0.222],[1.445,0.212],[1.478,0.211],[1.418,0.205],[1.399,0.198],[1.504,0.203],[1.524,0.195],[1.530,0.187],[1.583,0.202],[1.607,0.208],[1.629,0.217],[1.686,0.216],[1.708,0.205],[1.735,0.199],[1.656,0.193],[1.665,0.190],[1.646,0.186],[1.791,0.198],[1.814,0.205],[1.352,0.184],[1.392,0.183],[1.412,0.175],[1.438,0.169],[1.484,0.169],[1.507,0.177],[1.576,0.179],[1.599,0.172],[1.623,0.164],[1.691,0.166],[1.717,0.174],[1.741,0.181],[1.783,0.184],[1.831,0.166],[1.356,0.159],[1.366,0.160],[1.557,0.161],[1.563,0.157],[1.761,0.160],[1.754,0.157],[1.804,0.148],[1.827,0.154],[1.405,0.146],[1.383,0.139],[1.435,0.153],[1.488,0.152],[1.515,0.145],[1.541,0.136],[1.590,0.135],[1.620,0.142],[1.646,0.149],[1.673,0.148],[1.699,0.140],[1.725,0.133],[1.774,0.137],[1.853,0.129],[1.847,0.125],[1.451,0.128],[1.462,0.127],[1.449,0.122],[1.379,0.116],[1.401,0.109],[1.428,0.101],[1.359,0.100],[1.370,0.095],[1.501,0.103],[1.517,0.109],[1.544,0.119],[1.590,0.120],[1.612,0.111],[1.633,0.105],[1.682,0.107],[1.708,0.114],[1.731,0.122],[1.770,0.117],[1.797,0.108],[1.818,0.101],[1.752,0.101],[1.765,0.096],[1.557,0.098],[1.563,0.094],[1.449,0.086],[1.475,0.086],[1.422,0.080],[1.396,0.072],[1.497,0.077],[1.528,0.068],[1.533,0.060],[1.580,0.076],[1.599,0.083],[1.629,0.089],[1.675,0.089],[1.699,0.080],[1.725,0.074],[1.757,0.080],[1.787,0.071],[1.814,0.080],[1.840,0.087],[1.656,0.067],[1.662,0.063],[1.352,0.058],[1.385,0.057],[1.412,0.050],[1.438,0.042],[1.478,0.042],[1.507,0.051],[1.599,0.046],[1.625,0.039],[1.652,0.045],[1.691,0.040],[1.717,0.048],[1.744,0.054],[1.781,0.058],[1.807,0.050],[1.833,0.042],[1.557,0.036],[1.567,0.033],[1.356,0.030],[1.388,0.012],[1.412,0.019],[1.431,0.027],[1.488,0.026],[1.515,0.019],[1.537,0.010],[1.594,0.009],[1.616,0.016],[1.638,0.024],[1.675,0.021],[1.695,0.015],[1.721,0.008],[1.741,0.030],[1.754,0.033],[1.781,0.012],[1.804,0.020],[1.831,0.028],[1.458,0.004],[1.467,0.001],[1.847,0.003]
];

// Contour of the level above, split where its label sits
const contourLeftMain = [[0.383,0.000],[0.383,0.053],[0.383,0.099],[0.385,0.144],[0.395,0.189],[0.410,0.221],[0.432,0.258],[0.459,0.292],[0.507,0.346],[0.556,0.382],[0.617,0.414],[0.690,0.450]];
const contourLeftTail = [[0.835,0.502],[0.850,0.508]];
const contourLeftLabelAt = [0.762, 0.480];
const contourRightMain = [[0.368,0.000],[0.368,0.076],[0.371,0.121],[0.375,0.167],[0.387,0.213],[0.417,0.258],[0.437,0.291],[0.476,0.323],[0.516,0.364],[0.568,0.391],[0.634,0.423],[0.713,0.455]];
const contourRightTail = [[0.860,0.504],[0.872,0.508]];
const contourRightLabelAt = [0.785, 0.479];

const FONT = '"Liberation Sans", Arial, Helvetica, sans-serif';
const INK = '#000000';
const RED = '#ff0000';

function makeXAxis(gridIndex, min, max) {
  return {
    type: 'value', gridIndex: gridIndex, min: min, max: max,
    name: xTitle, nameLocation: 'middle', nameGap: 39,
    nameTextStyle: { fontFamily: FONT, fontSize: 23, color: INK },
    axisLine: { show: true, lineStyle: { color: INK, width: 1 } },
    axisTick: { show: true, inside: false, length: 7, customValues: xTicks, lineStyle: { color: INK, width: 1 } },
    axisLabel: { show: true, customValues: xTicks, formatter: function (v) { return v.toFixed(1); },
                 margin: 11, fontFamily: FONT, fontSize: 18, color: INK },
    splitLine: { show: false }
  };
}

function makeYAxis(gridIndex, min, max, gap) {
  return {
    type: 'value', gridIndex: gridIndex, min: min, max: max,
    name: yTitle, nameLocation: 'middle', nameGap: gap, nameRotate: 90,
    nameTextStyle: { fontFamily: FONT, fontSize: 23, color: INK },
    axisLine: { show: true, lineStyle: { color: INK, width: 1 } },
    axisTick: { show: true, inside: false, length: 7, customValues: yTicks, lineStyle: { color: INK, width: 1 } },
    axisLabel: { show: true, customValues: yTicks, rotate: 90, formatter: function (v) { return v.toFixed(1); },
                 margin: 18, fontFamily: FONT, fontSize: 18, color: INK },
    splitLine: { show: false }
  };
}

function scatter(axisIndex, data) {
  return {
    type: 'scatter', xAxisIndex: axisIndex, yAxisIndex: axisIndex, data: data,
    symbol: 'circle', symbolSize: 6, silent: true,
    itemStyle: { color: INK, opacity: 1 }
  };
}

function curve(axisIndex, data) {
  return {
    type: 'line', xAxisIndex: axisIndex, yAxisIndex: axisIndex, data: data,
    showSymbol: false, smooth: 0.3, silent: true, z: 5,
    lineStyle: { color: RED, width: 2 }
  };
}

function curveLabel(axisIndex, at, angle) {
  return {
    type: 'scatter', xAxisIndex: axisIndex, yAxisIndex: axisIndex, data: [at],
    symbolSize: 0, silent: true, z: 6,
    label: { show: true, position: 'inside', rotate: angle, formatter: String(contourLevel),
             fontFamily: FONT, fontSize: 16, color: RED }
  };
}

const chart = echarts.init(document.getElementById('chart'), null, { renderer: 'svg', width: 1077, height: 504 });

chart.setOption({
  animation: false,
  backgroundColor: '#ffffff',
  grid: [
    { left: 98, top: 40, width: 395, height: 398, show: true, borderColor: INK, borderWidth: 1, backgroundColor: 'transparent' },
    { left: 627, top: 40, width: 418, height: 398, show: true, borderColor: INK, borderWidth: 1, backgroundColor: 'transparent' }
  ],
  xAxis: [ makeXAxis(0, 0.3315, 1.7784), makeXAxis(1, 0.247, 1.899) ],
  yAxis: [ makeYAxis(0, -0.0177, 0.5245, 56), makeYAxis(1, -0.0177, 0.5245, 50) ],
  graphic: [
    { type: 'text', x: 295.5, y: 18, silent: true,
      style: { text: leftTitle, fontFamily: FONT, fontSize: 21.7, fontWeight: 'bold', fill: INK, align: 'center', verticalAlign: 'middle' } },
    { type: 'text', x: 617, y: 18, silent: true,
      style: { text: rightTitle, fontFamily: FONT, fontSize: 23.5, fontWeight: 'bold', fill: INK, align: 'left', verticalAlign: 'middle' } }
  ],
  series: [
    scatter(0, uniformPoints),
    scatter(1, quasiPoints),
    curve(0, contourLeftMain),
    curve(0, contourLeftTail),
    curve(1, contourRightMain),
    curve(1, contourRightTail),
    curveLabel(0, contourLeftLabelAt, 47),
    curveLabel(1, contourRightLabelAt, 44)
  ]
});
</script>
</body>
</html>
